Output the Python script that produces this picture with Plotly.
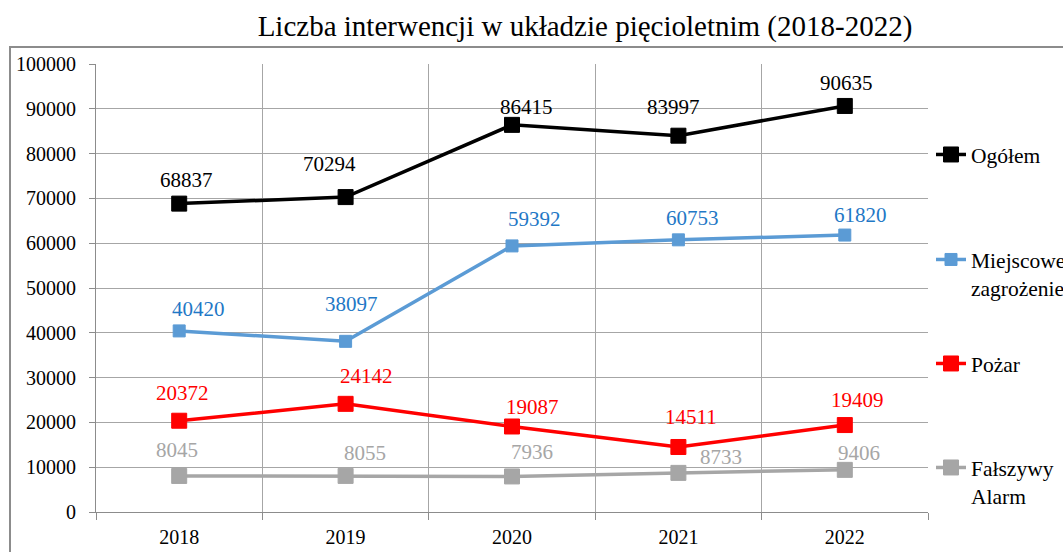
import plotly.graph_objects as go

years = ["2018", "2019", "2020", "2021", "2022"]
ogolem = [68837, 70294, 86415, 83997, 90635]
miejscowe = [40420, 38097, 59392, 60753, 61820]
pozar = [20372, 24142, 19087, 14511, 19409]
falszywy = [8045, 8055, 7936, 8733, 9406]

# label offsets in pixels (style only): (dx, dy)
off_ogolem = [(7, 24), (-16, 33), (14, 18), (-5, 29), (2, 23)]
off_miejscowe = [(19, 22), (6, 37), (22, 27), (14, 22), (16, 20)]
off_pozar = [(3, 28), (21, 28), (20, 19), (13, 30), (13, 25)]
off_falszywy = [(-2, 26), (19, 23), (20, 24), (43, 16), (14, 17)]

FONT = "Liberation Serif"

W, H = 1063, 552
L, R, T, B = 96, 928, 64, 512

def px(p):
    return (p - L) / (R - L)

def py(p):
    return (B - p) / (B - T)

# (name, values, line colour, label colour, marker size, offsets, legend id, legend top px)
series = [
    ("Ogółem", ogolem, "#000000", "#000000", 15, off_ogolem, "legend", 134),
    ("Miejscowe<br>zagrożenie", miejscowe, "#5B9BD5", "#1F78C6", 12, off_miejscowe, "legend2", 239),
    ("Pożar", pozar, "#FF0000", "#FF0000", 15, off_pozar, "legend3", 343),
    ("Fałszywy<br>Alarm", falszywy, "#A6A6A6", "#A6A6A6", 15, off_falszywy, "legend4", 447),
]

fig = go.Figure()
annotations = []
legends = {}
for i, (name, vals, lc, tc, ms, offs, lg, ltop) in enumerate(series):
    fig.add_trace(go.Scatter(
        x=years, y=vals, name=name, mode="lines+markers",
        line=dict(color=lc, width=3.5),
        marker=dict(symbol="square", size=ms, color=lc, line=dict(color=lc, width=1)),
        legend=lg,
    ))
    legends[lg] = dict(x=px(931), xanchor="left", y=py(ltop), yanchor="top",
                       font=dict(family=FONT, size=21.5, color="#000000"),
                       valign="top", bgcolor="rgba(0,0,0,0)")
    for j, (v, (dx, dy)) in enumerate(zip(vals, offs)):
        annotations.append(dict(
            x=j, y=v, xref="x", yref="y", text=str(v), showarrow=False,
            xshift=dx, yshift=dy, font=dict(family=FONT, size=21, color=tc),
        ))

fig.update_layout(
    width=W, height=H,
    margin=dict(l=L, r=W - R, t=T, b=H - B, autoexpand=False),
    paper_bgcolor="white", plot_bgcolor="white",
    font=dict(family=FONT, size=20, color="#000000"),
    title=dict(text="Liczba interwencji w układzie pięcioletnim (2018-2022)",
               x=585 / W, xanchor="center", y=1 - 26 / H, yanchor="middle",
               font=dict(family=FONT, size=29, color="#000000")),
    showlegend=True,
    annotations=annotations,
    shapes=[dict(type="rect", xref="paper", yref="paper",
                 x0=px(10), x1=px(1075), y0=py(565), y1=py(47),
                 line=dict(color="#8C8C8C", width=2), fillcolor="rgba(0,0,0,0)",
                 layer="below")],
    **legends,
)

fig.update_xaxes(
    type="category", tickson="boundaries", ticks="outside", ticklen=7,
    tickcolor="#8C8C8C", showgrid=True, gridcolor="#A6A6A6", gridwidth=1,
    showline=True, linecolor="#8C8C8C", linewidth=1,
    tickfont=dict(family=FONT, size=20, color="#000000"),
    range=[-0.5, 4.5], ticklabelstandoff=7,
)
fig.update_yaxes(
    range=[0, 100000], dtick=10000, ticks="outside", ticklen=6, tickformat="d",
    tickcolor="#8C8C8C", showgrid=True, gridcolor="#A6A6A6", gridwidth=1,
    showline=True, linecolor="#8C8C8C", linewidth=1, zeroline=False,
    tickfont=dict(family=FONT, size=20, color="#000000"),
    ticklabelstandoff=9,
)

fig.write_html("out.html", config={"displayModeBar": False},
               post_script="document.body.style.margin='0';")
